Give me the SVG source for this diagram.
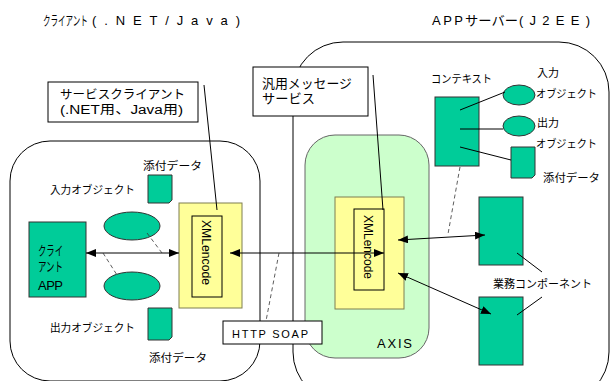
<svg xmlns="http://www.w3.org/2000/svg" width="610" height="381" viewBox="0 0 610 381">
<style>
.t{font-family:"Noto Sans CJK JP","Liberation Sans",sans-serif;fill:#000}
.m{font-family:"Liberation Sans","Noto Sans CJK JP",sans-serif;fill:#000}
.s11{font-size:11px}
.s12{font-size:12.5px}
.s13{font-size:13px}
.lat{font-family:"Liberation Sans","Noto Sans CJK JP",sans-serif}
.cont{fill:#fff;stroke:#000;stroke-width:1}
.green{fill:#00cc99;stroke:#333;stroke-width:1}
.yel{fill:#ffff99;stroke:#7f7f50;stroke-width:1}
.inner{fill:#ffff99;stroke:#000;stroke-width:1}
.box{fill:#fff;stroke:#000;stroke-width:1}
.ln{stroke:#000;stroke-width:1;fill:none}
.dash{stroke:#333;stroke-width:0.8;stroke-dasharray:4 3;fill:none}
.arr{stroke:#000;stroke-width:1;fill:none;marker-start:url(#ah);marker-end:url(#ah)}
</style>
<defs>
<marker id="ah" viewBox="0 0 10 8" refX="10" refY="4" markerWidth="10" markerHeight="8" markerUnits="userSpaceOnUse" orient="auto-start-reverse">
<path d="M0,0 L10,4 L0,8 Z" fill="#000"/>
</marker>
</defs>
<rect width="610" height="381" fill="#fff"/>

<g id="titles">
<text class="t s13" transform="translate(43,25) scale(0.58,1)">クライアント</text>
<text class="t s13 lat" x="92" y="25" textLength="148" lengthAdjust="spacing">(.NET/Java)</text>
<text class="t s13" y="25"><tspan class="lat" x="432" textLength="31" lengthAdjust="spacing">APP</tspan><tspan x="465" textLength="53" lengthAdjust="spacingAndGlyphs">サーバー</tspan><tspan class="lat" x="519" textLength="71" lengthAdjust="spacing">(J2EE)</tspan></text>
</g>

<g id="server-container">
<rect class="cont" x="293" y="42" width="316" height="360" rx="50" ry="50"/>
</g>
<g id="client-container">
<rect class="cont" x="10" y="141" width="250" height="240" rx="40" ry="40"/>
</g>
<g id="axis">
<rect x="305" y="135" width="124" height="223" rx="30" ry="30" fill="#ccffcc" stroke="#666" stroke-width="1"/>
<text class="t s13 lat" x="377" y="348" textLength="35" lengthAdjust="spacing">AXIS</text>
</g>

<g id="service-client-note">
<rect class="box" x="48" y="82" width="150" height="40"/>
<text class="m s12"><tspan x="60" y="99" textLength="125" lengthAdjust="spacingAndGlyphs">サービスクライアント</tspan><tspan x="60" y="114" textLength="123" lengthAdjust="spacingAndGlyphs">(.NET用、Java用)</tspan></text>
</g>
<g id="message-service-note">
<rect class="box" x="253" y="67" width="115" height="49"/>
<text class="m s13"><tspan x="262" y="88" textLength="90" lengthAdjust="spacingAndGlyphs">汎用メッセージ</tspan><tspan x="262" y="103" textLength="53" lengthAdjust="spacingAndGlyphs">サービス</tspan></text>
</g>

<g id="client-app">
<rect class="green" x="29" y="222" width="57" height="75"/>
<text class="m s13"><tspan x="38" y="255" textLength="25" lengthAdjust="spacingAndGlyphs">クライ</tspan><tspan x="38" y="271" textLength="25" lengthAdjust="spacingAndGlyphs">アント</tspan><tspan x="38" y="290" textLength="25" lengthAdjust="spacing">APP</tspan></text>
</g>

<g id="client-input-object">
<ellipse class="green" cx="132" cy="226" rx="28" ry="14"/>
<text class="t s11" x="50" y="194" textLength="85" lengthAdjust="spacingAndGlyphs">入力オブジェクト</text>
</g>
<g id="client-output-object">
<ellipse class="green" cx="132" cy="286" rx="28" ry="14"/>
<text class="t s11" x="50" y="332" textLength="85" lengthAdjust="spacingAndGlyphs">出力オブジェクト</text>
</g>
<g id="client-attach-top">
<path class="green" d="M148,175 H172 V200 L169,203 H148 Z"/>
<text class="t s11" x="143" y="170" textLength="59" lengthAdjust="spacingAndGlyphs">添付データ</text>
</g>
<g id="client-attach-bottom">
<path class="green" d="M148,308 H172 V337 L169,340 H148 Z"/>
<text class="t s11" x="149" y="362" textLength="58" lengthAdjust="spacingAndGlyphs">添付データ</text>
</g>

<g id="client-encoder">
<rect class="yel" x="179" y="203" width="63" height="105"/>
<rect class="inner" x="192" y="216" width="30" height="81"/>
<text class="lat" font-size="12" transform="translate(202,220) rotate(90)" textLength="65" lengthAdjust="spacingAndGlyphs">XMLencode</text>
</g>

<g id="axis-encoder">
<rect class="yel" x="335" y="197" width="69" height="112"/>
<rect class="inner" x="354" y="209" width="30" height="81"/>
<text class="lat" font-size="12" transform="translate(364,215) rotate(90)" textLength="64" lengthAdjust="spacingAndGlyphs">XMLencode</text>
</g>

<g id="http-soap">
<rect class="box" x="223" y="321" width="99" height="23"/>
<text class="t s11 lat" x="232" y="338" textLength="76" lengthAdjust="spacing">HTTP SOAP</text>
</g>

<g id="context">
<rect class="green" x="435" y="97" width="44" height="69"/>
<text class="t s11" x="431" y="83" textLength="61" lengthAdjust="spacingAndGlyphs">コンテキスト</text>
</g>
<g id="server-input-object">
<ellipse class="green" cx="519" cy="95" rx="16" ry="10"/>
<text class="t s11"><tspan x="537" y="77" textLength="22" lengthAdjust="spacingAndGlyphs">入力</tspan><tspan x="536" y="98" textLength="61" lengthAdjust="spacingAndGlyphs">オブジェクト</tspan></text>
</g>
<g id="server-output-object">
<ellipse class="green" cx="519" cy="126" rx="16" ry="10"/>
<text class="t s11"><tspan x="537" y="127" textLength="22" lengthAdjust="spacingAndGlyphs">出力</tspan><tspan x="536" y="148" textLength="61" lengthAdjust="spacingAndGlyphs">オブジェクト</tspan></text>
</g>
<g id="server-attach">
<path class="green" d="M511,147 H535 V175 L532,178 H511 Z"/>
<text class="t s11" x="543" y="182" textLength="57" lengthAdjust="spacingAndGlyphs">添付データ</text>
</g>

<g id="business-component-1">
<rect class="green" x="479" y="197" width="44" height="68"/>
</g>
<g id="business-component-2">
<rect class="green" x="479" y="297" width="44" height="68"/>
</g>
<g id="business-label">
<text class="t s11" x="493" y="288" textLength="99" lengthAdjust="spacingAndGlyphs">業務コンポーネント</text>
</g>

<g id="connectors">
<line class="ln" x1="204" y1="85" x2="217" y2="210"/>
<line class="ln" x1="373" y1="75" x2="383" y2="210"/>
<line class="arr" x1="86" y1="253" x2="179" y2="253"/>
<line class="arr" x1="230" y1="253" x2="384" y2="253"/>
<line class="arr" x1="398" y1="240" x2="485" y2="235"/>
<line class="arr" x1="398" y1="273" x2="491" y2="314"/>
<line class="dash" x1="147" y1="233" x2="162" y2="253"/>
<line class="dash" x1="103" y1="253" x2="117" y2="275"/>
<line class="dash" x1="279" y1="253" x2="266" y2="321"/>
<line class="dash" x1="460" y1="167" x2="448" y2="234"/>
<line class="ln" x1="460" y1="110" x2="505" y2="92"/>
<line class="ln" x1="460" y1="129" x2="503" y2="129"/>
<line class="ln" x1="460" y1="147" x2="511" y2="160"/>
<line class="ln" x1="517" y1="253" x2="542" y2="272"/>
<line class="ln" x1="542" y1="297" x2="517" y2="315"/>
</g>
</svg>
